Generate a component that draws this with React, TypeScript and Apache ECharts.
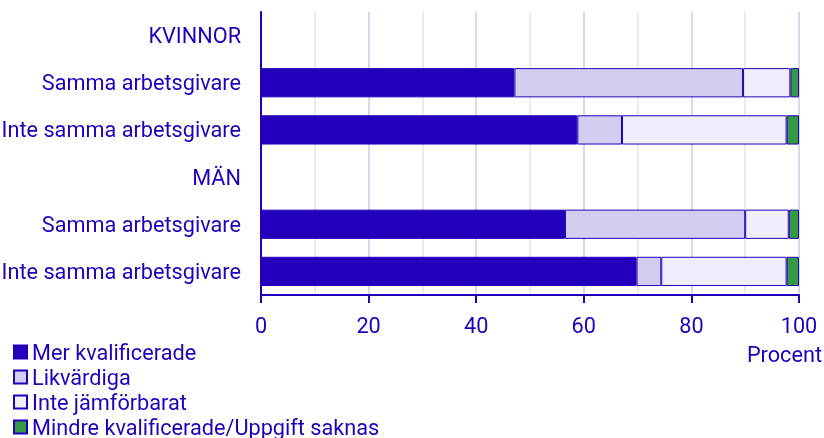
import React, { useEffect, useRef } from "react";
import * as echarts from "echarts";

const categories = ["KVINNOR", "Samma arbetsgivare", "Inte samma arbetsgivare", "MÄN", "Samma arbetsgivare", "Inte samma arbetsgivare"];
const merKvalificerade = [null, 47.1, 58.8, null, 56.5, 69.8];
const likvardiga = [null, 42.5, 8.3, null, 33.5, 4.6];
const inteJamforbarat = [null, 8.8, 30.6, null, 8.1, 23.3];
const mindreKvalificerade = [null, 1.6, 2.3, null, 1.9, 2.3];
const seriesNames = ["Mer kvalificerade", "Likvärdiga", "Inte jämförbarat", "Mindre kvalificerade/Uppgift saknas"];
const xTicks = [0, 20, 40, 60, 80, 100];

const TEXT = "#2200bb";
const FONT = "Roboto";
const FS = 21.7;

export default function App() {
  const ref = useRef<HTMLDivElement>(null);
  useEffect(() => {
    const chart = echarts.init(ref.current!, null, { renderer: "svg" });
    const colors = ["#2200bb", "#d2cef2", "#eeeefd", "#339944"];
    const datasets = [merKvalificerade, likvardiga, inteJamforbarat, mindreKvalificerade];
    chart.setOption({
      animation: false,
      textStyle: { fontFamily: FONT },
      grid: { left: 261, right: 25, top: 12, bottom: 143, containLabel: false, outerBoundsMode: "none" },
      legend: {
        orient: "vertical",
        left: 13,
        top: 341,
        padding: 0,
        itemWidth: 13,
        itemHeight: 13,
        itemGap: 3,
        icon: "rect",
        textStyle: { color: TEXT, fontSize: FS, fontFamily: FONT, padding: [0, 0, 0, 0] },
        data: seriesNames,
      },
      xAxis: {
        type: "value",
        min: 0,
        max: 100,
        interval: 20,
        minorTick: { show: false, splitNumber: 2 },
        axisLine: { show: true, lineStyle: { color: TEXT, width: 2 } },
        axisTick: { show: true, length: 8, lineStyle: { color: TEXT, width: 2 } },
        axisLabel: {
          color: TEXT,
          fontSize: FS,
          fontFamily: FONT,
          margin: 19,
          formatter: (v: number) => (xTicks.includes(v) ? String(v) : ""),
        },
        splitLine: { show: true, lineStyle: { color: "#d8d8f2", width: 2 } },
        minorSplitLine: { show: true, lineStyle: { color: "#ececf0", width: 2 } },
      },
      yAxis: {
        type: "category",
        inverse: true,
        data: categories.map((_, i) => String(i)),
        axisLine: { show: true, lineStyle: { color: TEXT, width: 2 } },
        axisTick: { show: false },
        axisLabel: {
          color: TEXT,
          fontSize: FS,
          fontFamily: FONT,
          margin: 20,
          formatter: (v: string) => categories[Number(v)],
        },
      },
      graphic: [
        {
          type: "text",
          right: 2,
          top: 343,
          style: { text: "Procent", fill: TEXT, fontSize: FS, fontFamily: FONT },
        },
      ],
      series: seriesNames.map((name, i) => ({
        name,
        type: "bar",
        stack: "total",
        barWidth: "62%",
        data: datasets[i],
        itemStyle: { color: colors[i], borderColor: TEXT, borderWidth: 1 },
      })),
    });
    return () => chart.dispose();
  }, []);
  return <div ref={ref} style={{ position: "fixed", left: 0, top: 0, width: 824, height: 438 }} />;
}
